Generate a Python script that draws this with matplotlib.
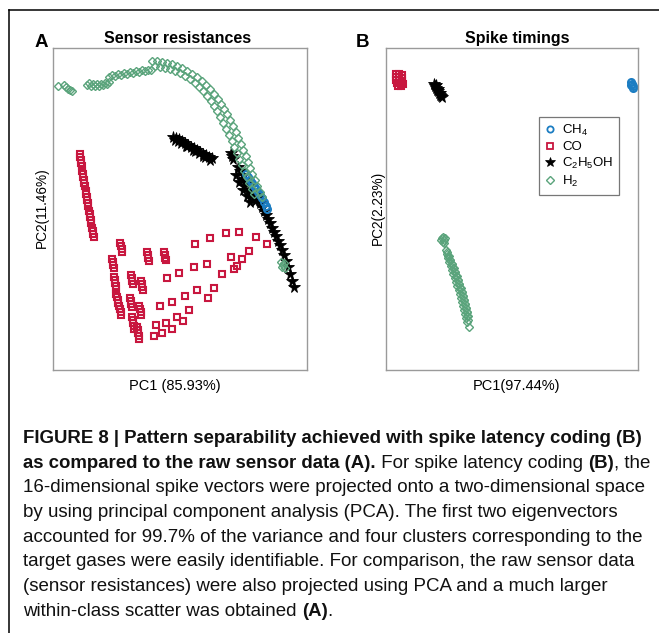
import matplotlib
matplotlib.use("Agg")
import matplotlib.pyplot as plt
from matplotlib import font_manager
from matplotlib.font_manager import FontProperties
from matplotlib.lines import Line2D

# ---------------- data (PC scores, arbitrary units) -------------
# Panel A : sensor resistances
a_h2_x = [58, 64, 66, 68, 70, 72,
          87, 89, 91, 93, 95, 97, 99, 101, 103, 105, 107, 109,
          109, 112, 115, 118, 121, 124, 127, 130, 133, 136, 139, 142, 145, 148, 151,
          152, 157, 162, 167, 172, 177, 182, 187, 192, 197, 202, 206, 210, 214, 218, 221,
          224, 227, 230, 233, 236, 238, 241, 243, 246, 248, 250, 252, 255, 257, 260, 262,
          155, 160, 165, 170, 175, 180, 185, 190, 195, 199, 203, 207, 211, 214, 217, 220,
          223, 226, 229, 232, 234, 237, 239, 242, 244, 247, 249, 252, 254,
          281, 283, 285, 282, 284]
a_h2_y = [314, 315, 313, 311, 310, 309,
          315, 317, 314, 316, 314, 316, 314, 316, 315, 317, 316, 318,
          323, 325, 324, 326, 325, 327, 326, 328, 327, 329, 328, 330, 329, 330, 330,
          339, 339, 338, 337, 336, 334, 332, 329, 326, 323, 319, 315, 311, 306, 301, 296,
          291, 286, 280, 274, 268, 262, 256, 250, 244, 238, 232, 226, 220, 214, 208, 203,
          334, 333, 332, 331, 329, 327, 324, 321, 317, 313, 309, 304, 299, 294, 289, 283,
          277, 271, 265, 259, 253, 247, 241, 235, 229, 223, 217, 211, 206,
          138, 135, 132, 133, 137]

a_co_x = [80, 80, 81, 81, 82, 82, 83, 83, 84, 84, 85, 86, 86, 87, 87, 88, 88,
          89, 90, 90, 91, 91, 92, 93, 93, 94,
          120, 121, 122, 122, 112, 113, 113, 114, 114, 115, 115, 116, 116,
          116, 117, 118, 118, 119, 120, 121, 121,
          132, 133, 133, 134, 134, 137, 138, 138, 139, 139,
          131, 132, 132, 133, 141, 142, 142, 143, 130, 131, 131, 132, 139, 140, 141, 141,
          147, 148, 148, 149, 164, 165, 165, 166,
          195, 210, 226, 239, 256, 267, 249, 231, 242, 237, 234, 222, 207, 194, 179, 167,
          214, 208, 197, 185, 172, 160, 189, 183, 177, 172, 166, 162, 156, 154]
a_co_y = [246, 243, 240, 237, 234, 229, 226, 223, 220, 217, 214, 209, 206, 203, 200, 197, 194,
          189, 186, 183, 180, 177, 172, 169, 166, 163,
          157, 154, 151, 148, 141, 138, 135, 132, 123, 120, 117, 114, 111,
          106, 103, 100, 97, 94, 91, 88, 85,
          83, 80, 77, 74, 71, 73, 70, 67, 64, 61,
          125, 122, 119, 116, 119, 116, 113, 110, 102, 99, 96, 93, 94, 91, 88, 85,
          148, 145, 142, 139, 148, 145, 142, 140,
          156, 162, 167, 168, 163, 156, 149, 143, 141, 134, 131, 126, 136, 133, 127, 122,
          112, 102, 110, 104, 98, 94, 90, 79, 83, 71, 77, 67, 75, 64]

a_eth_x = [173, 176, 179, 182, 185, 188, 191, 194, 197, 200, 203, 206, 209, 212, 178, 186, 195, 203,
           175, 181, 187, 193, 199, 205, 210,
           231, 232, 233,
           238, 240, 243, 245, 242, 247, 250, 244, 252, 248, 255, 251, 258, 255, 260, 262, 264,
           236, 239, 243, 247, 250,
           266, 268, 270, 272, 274, 276, 278, 280, 282, 284, 286, 288, 290, 292, 294]
a_eth_y = [263, 262, 261, 259, 257, 255, 253, 252, 250, 248, 246, 245, 243, 242, 259, 254, 249, 244,
           260, 257, 254, 250, 247, 243, 240,
           247, 244, 241,
           233, 229, 225, 221, 220, 217, 214, 214, 210, 209, 206, 204, 202, 199, 197, 193, 189,
           225, 218, 210, 204, 198,
           185, 181, 177, 172, 168, 164, 159, 155, 150, 145, 139, 133, 126, 119, 113]

a_ch4_x = [246, 248, 250, 252, 254, 256, 258, 260, 262, 264, 266, 267]
a_ch4_y = [226, 223, 220, 217, 214, 211, 208, 205, 202, 198, 194, 191]

# Panel B : spike timings
b_ch4_x = [631, 632, 633, 633, 631]
b_ch4_y = [318, 316, 314, 312, 315]

b_co_x = [396, 399, 402, 396, 399, 402, 396, 399, 402, 397, 400, 403, 398, 401]
b_co_y = [326, 326, 325, 323, 323, 322, 320, 320, 319, 317, 317, 316, 314, 314]

b_eth_x = [434, 435, 436, 437, 438, 439, 440, 441, 442, 436, 438, 440]
b_eth_y = [316, 314, 312, 310, 309, 307, 305, 304, 303, 315, 311, 307]

b_h2_x = [442, 444, 443, 445, 441, 444, 443,
          446, 447, 448, 449, 451, 452, 453, 455, 456, 457, 459, 460, 461, 462, 463, 464, 465, 466, 467,
          448, 450, 452, 453, 455, 456, 458, 459, 460, 462, 463, 464, 465, 466, 467, 468,
          447, 449, 450, 452, 454, 455, 457, 458, 459, 461, 462, 463, 464, 465, 466, 467, 467, 468,
          469]
b_h2_y = [162, 160, 158, 162, 160, 157, 163,
          150, 146, 142, 138, 134, 130, 126, 122, 118, 114, 110, 106, 102, 98, 94, 90, 86, 82, 78,
          144, 140, 136, 132, 128, 124, 120, 116, 112, 108, 104, 100, 96, 92, 88, 84,
          148, 144, 140, 136, 132, 128, 124, 120, 116, 112, 108, 104, 100, 96, 92, 88, 84, 80,
          73]

gases = ["CH$_4$", "CO", "C$_2$H$_5$OH", "H$_2$"]

titles = ["Sensor resistances", "Spike timings"]
panel_letters = ["A", "B"]
xlabels = ["PC1 (85.93%)", "PC1(97.44%)"]
ylabels = ["PC2(11.46%)", "PC2(2.23%)"]

caption_lines = [
    [("FIGURE 8 | Pattern separability achieved with spike latency coding (B)", True)],
    [("as compared to the raw sensor data (A).", True), (" For spike latency coding ", False),
     ("(B)", True), (", the", False)],
    [("16-dimensional spike vectors were projected onto a two-dimensional space", False)],
    [("by using principal component analysis (PCA). The first two eigenvectors", False)],
    [("accounted for 99.7% of the variance and four clusters corresponding to the", False)],
    [("target gases were easily identifiable. For comparison, the raw sensor data", False)],
    [("(sensor resistances) were also projected using PCA and a much larger", False)],
    [("within-class scatter was obtained ", False), ("(A)", True), (".", False)],
]

# ---------------- styles ----------------
RED = "#C8173F"
GREEN = "#5BA47C"
BLUE = "#1C7DC2"
BLACK = "#000000"
FONT = "Liberation Sans"
plt.rcParams["font.family"] = [FONT, "DejaVu Sans"]
plt.rcParams["mathtext.default"] = "regular"

W, H, DPI = 659, 633, 100
fig = plt.figure(figsize=(W / DPI, H / DPI), dpi=DPI)
fig.patch.set_facecolor("white")


def fx(px):
    return px / W


def fy(py):
    return 1 - py / H


styles = {
    "CH4": dict(marker="o", ms=5.0, mfc="none", mec=BLUE, mew=1.5, ls="none"),
    "CO": dict(marker="s", ms=4.6, mfc="none", mec=RED, mew=1.5, ls="none"),
    "ETH": dict(marker="*", ms=8.5, mfc=BLACK, mec=BLACK, mew=0.6, ls="none"),
    "H2": dict(marker="D", ms=4.0, mfc="none", mec=GREEN, mew=1.0, ls="none"),
}
legend_styles = {
    "CH4": dict(marker="o", ms=4.5, mfc="none", mec=BLUE, mew=1.3, ls="none"),
    "CO": dict(marker="s", ms=4.2, mfc="none", mec=RED, mew=1.3, ls="none"),
    "ETH": dict(marker="*", ms=7.5, mfc=BLACK, mec=BLACK, mew=0.5, ls="none"),
    "H2": dict(marker="D", ms=3.8, mfc="none", mec=GREEN, mew=1.0, ls="none"),
}

axA = fig.add_axes([fx(53), fy(370), fx(307) - fx(53), fy(48) - fy(370)])
axB = fig.add_axes([fx(386), fy(370), fx(638) - fx(386), fy(48) - fy(370)])

axA.plot(a_co_x, a_co_y, **styles["CO"])
axA.plot(a_eth_x, a_eth_y, **styles["ETH"])
axA.plot(a_ch4_x, a_ch4_y, **styles["CH4"])
axA.plot(a_h2_x, a_h2_y, **styles["H2"])
axA.set_xlim(53, 307)
axA.set_ylim(30, 352)

axB.plot(b_co_x, b_co_y, **styles["CO"])
axB.plot(b_eth_x, b_eth_y, **styles["ETH"])
axB.plot(b_ch4_x, b_ch4_y, **styles["CH4"])
axB.plot(b_h2_x, b_h2_y, **styles["H2"])
axB.set_xlim(386, 638)
axB.set_ylim(30, 352)

for ax in (axA, axB):
    ax.set_xticks([])
    ax.set_yticks([])
    for sp in ax.spines.values():
        sp.set_color("#9a9a9a")
        sp.set_linewidth(1.0)

handles = [Line2D([], [], **legend_styles[k]) for k in ("CH4", "CO", "ETH", "H2")]
leg = axB.legend(handles, gases, loc="upper left",
                 bbox_to_anchor=((539 - 386) / 252, 1 - (117 - 48) / 322),
                 borderaxespad=0, fontsize=9.5, frameon=True, fancybox=False,
                 handlelength=0.8, handletextpad=0.5, borderpad=0.45, labelspacing=0.22)
leg.get_frame().set_edgecolor("#555555")
leg.get_frame().set_linewidth(0.9)

# titles, letters, axis labels
fig.text(fx(178), fy(43), titles[0], ha="center", va="baseline", fontsize=11.5, fontweight="bold")
fig.text(fx(517), fy(43), titles[1], ha="center", va="baseline", fontsize=11.5, fontweight="bold")
fig.text(fx(35), fy(47), panel_letters[0], ha="left", va="baseline", fontsize=13.5, fontweight="bold")
fig.text(fx(356), fy(47), panel_letters[1], ha="left", va="baseline", fontsize=13.5, fontweight="bold")
fig.text(fx(175), fy(386), xlabels[0], ha="center", va="center", fontsize=10.5)
fig.text(fx(516), fy(386), xlabels[1], ha="center", va="center", fontsize=10.5)
fig.text(fx(42), fy(208), ylabels[0], ha="center", va="center", rotation=90, fontsize=9.8)
fig.text(fx(378), fy(208), ylabels[1], ha="center", va="center", rotation=90, fontsize=9.8)

# frame lines
fig.add_artist(Line2D([fx(9), fx(9)], [0, fy(10)], transform=fig.transFigure, color="black", lw=1.1))
fig.add_artist(Line2D([fx(9), 1], [fy(10), fy(10)], transform=fig.transFigure, color="black", lw=1.1))

# ---------------- caption with mixed bold / regular runs ----------------
names = {f.name for f in font_manager.fontManager.ttflist}
bold_family = "Liberation Sans Narrow" if "Liberation Sans Narrow" in names else FONT
renderer = fig.canvas.get_renderer()


def adv(s, fp):
    w1, _, _ = renderer.get_text_width_height_descent("|" + s + "|", fp, ismath=False)
    w2, _, _ = renderer.get_text_width_height_descent("||", fp, ismath=False)
    return w1 - w2


ref_reg = FontProperties(family=FONT, size=10)
reg_size = 10 * 627 / adv(caption_lines[2][0][0], ref_reg)
ref_bold = FontProperties(family=bold_family, weight="bold", size=10)
bold_size = 10 * 624 / adv(caption_lines[0][0][0], ref_bold)

fp_reg = FontProperties(family=FONT, size=reg_size)
fp_bold = FontProperties(family=bold_family, weight="bold", size=bold_size)

x0 = 23
base0 = 443
step = 24.7
for i, line in enumerate(caption_lines):
    x = x0
    yb = base0 + i * step
    for txt, isbold in line:
        fp = fp_bold if isbold else fp_reg
        fig.text(fx(x), fy(yb), txt, fontproperties=fp, ha="left", va="baseline", color="#111111")
        x += adv(txt, fp)

fig.savefig("out.png", dpi=DPI, facecolor="white")
